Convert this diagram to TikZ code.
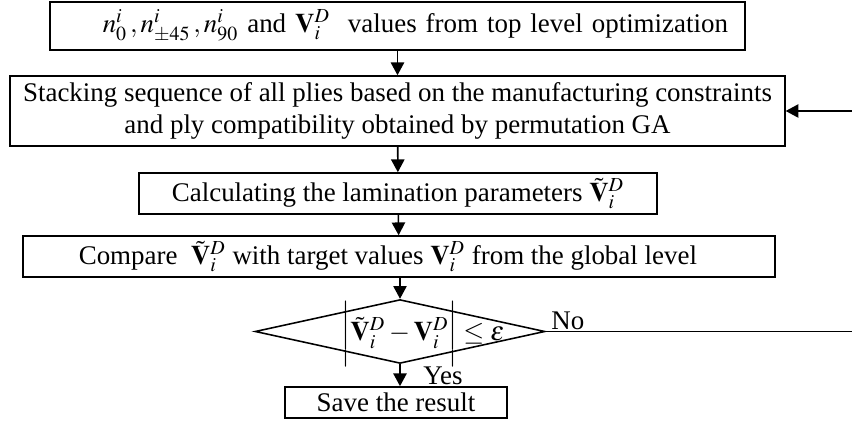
\documentclass[tikz,border=0pt]{standalone}
\usepackage{mathptmx}
\usepackage{fontspec}
\setmainfont{Liberation Serif}
\usetikzlibrary{shapes.geometric,arrows.meta,shadows}

\tikzset{
  flowbox/.style={rectangle, draw, line width=0.8pt, fill=white, inner sep=0pt,
    align=center, drop shadow={shadow xshift=0.6pt, shadow yshift=-0.6pt, fill=gray!70, opacity=1}},
  decision/.style={diamond, draw, line width=0.8pt, inner sep=0pt, aspect=4.5,
    minimum width=5.22cm, minimum height=1.15cm},
  line/.style={draw, line width=0.8pt, -{Triangle[length=2.3mm,width=2.4mm]}}
}

\begin{document}
\begin{tikzpicture}[x=0.018cm, y=-0.018cm, font=\fontsize{13.8}{16.5}\selectfont]
\useasboundingbox (0,0) rectangle (852,425);

% boxes
\node[flowbox, minimum width=12.51cm, minimum height=0.864cm,
      text width=11.9cm, inner xsep=0.3cm, align=right] (top) at (397.5,26)
  {$n_0^i\,, n_{\pm 45}^i\,, n_{90}^i$ and $\mathbf{V}_i^D$\ \ values from top level optimization};
\node[flowbox, minimum width=13.95cm, minimum height=1.26cm] (stack) at (397.5,111)
  {Stacking sequence of all plies based on the manufacturing constraints\\
   and ply compatibility obtained by permutation GA};
\node[flowbox, minimum width=9.32cm, minimum height=0.738cm] (calc) at (398,193.5)
  {Calculating the lamination parameters $\tilde{\mathbf{V}}_i^D$};
\node[flowbox, minimum width=13.54cm, minimum height=0.738cm] (comp) at (399,256.5)
  {Compare\ \ $\tilde{\mathbf{V}}_i^D$ with target values $\mathbf{V}_i^D$ from the global level\hspace*{0.4cm}};
\node[decision] (check) at (400,331.5) {};
\node (checktext) at (423,334)
  {$\left|\rule[-11pt]{0pt}{27pt}\tilde{\mathbf{V}}_i^D - \mathbf{V}_i^D\right| \leq \varepsilon$};
\node[flowbox, minimum width=4.0cm, minimum height=0.56cm] (save) at (396,402.5) {Save the result};

\coordinate (loop) at (870,0);

% connectors
\draw[line] (top) -- (stack);
\draw[line] (stack) -- (calc);
\draw[line] (calc) -- (comp);
\draw[line] (comp.south -| check.north) -- (check.north);
\draw[line] (check.south) -- (check.south |- save.north);
\draw[line] (check.east) -- (check.east -| loop) |- (stack.east);

% labels
\node[anchor=base west, inner sep=0pt] (no) at (551,330) {No};
\node[anchor=base west, inner sep=0pt] (yes) at (423,385) {Yes};
\end{tikzpicture}
\end{document}
